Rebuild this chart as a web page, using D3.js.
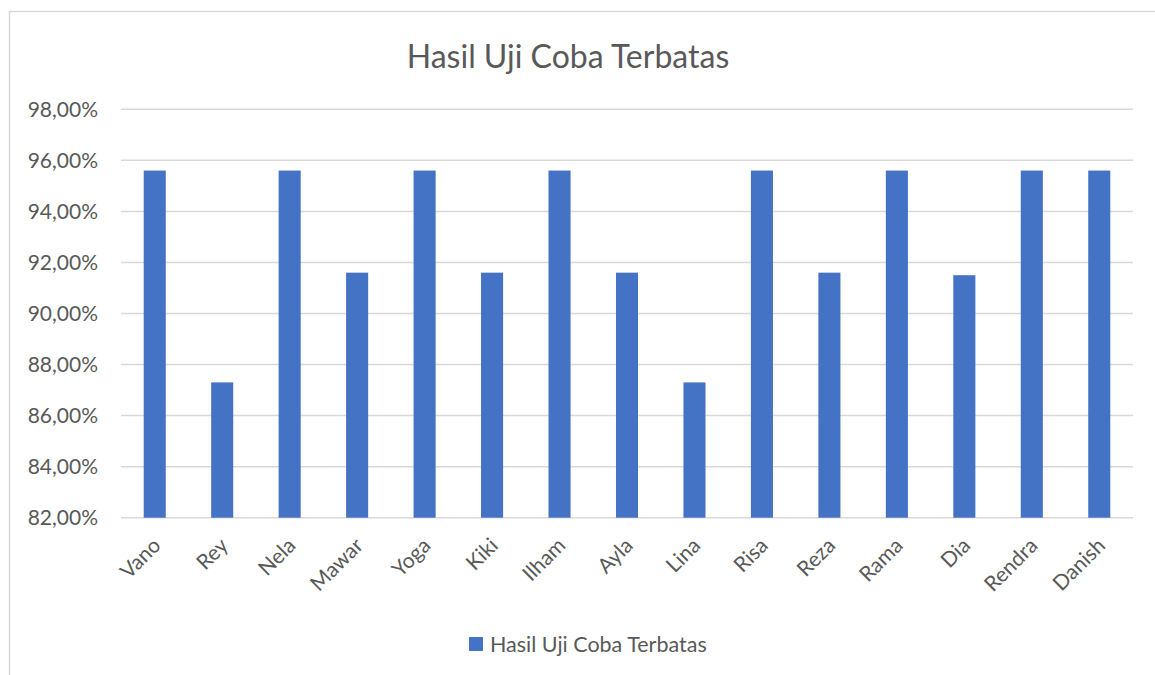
<!DOCTYPE html>
<html>
<head>
<meta charset="utf-8">
<script src="https://cdn.jsdelivr.net/npm/d3@7"></script>
<style>
  body { margin: 0; background: #fff; }
  text { font-family: Lato, "Open Sans", sans-serif; fill: #595959; }
</style>
</head>
<body>
<div id="chart"></div>
<script>
const names = ['Vano', 'Rey', 'Nela', 'Mawar', 'Yoga', 'Kiki', 'Ilham', 'Ayla', 'Lina', 'Risa', 'Reza', 'Rama', 'Dia', 'Rendra', 'Danish'];
const scores = [95.6, 87.3, 95.6, 91.6, 95.6, 91.6, 95.6, 91.6, 87.3, 95.6, 91.6, 95.6, 91.5, 95.6, 95.6];
const yTicks = [82, 84, 86, 88, 90, 92, 94, 96, 98];
const title = 'Hasil Uji Coba Terbatas';

const width = 1155;
const height = 675;
const margin = { top: 109, right: 22, bottom: 157, left: 121 };

const svg = d3.select('#chart').append('svg')
  .attr('width', width)
  .attr('height', height);

// chart frame (only left/top visible in the original crop)
svg.append('rect')
  .attr('x', 9.5).attr('y', 11.5)
  .attr('width', width + 20).attr('height', height + 20)
  .attr('fill', 'none')
  .attr('stroke', '#d9d9d9')
  .attr('stroke-width', 1.5);

const x = d3.scaleBand()
  .domain(names)
  .range([margin.left, width - margin.right])
  .paddingInner(0.673)
  .paddingOuter(0.3365);

const y = d3.scaleLinear()
  .domain([82, 98])
  .range([height - margin.bottom - 0.3, margin.top + 0.3]);

// gridlines
svg.append('g')
  .selectAll('line')
  .data(yTicks)
  .enter().append('line')
  .attr('x1', margin.left)
  .attr('x2', width - margin.right)
  .attr('y1', d => y(d))
  .attr('y2', d => y(d))
  .attr('stroke', '#d9d9d9')
  .attr('stroke-width', 1.5);

// y labels
const fmt = d => d.toFixed(2).replace('.', ',') + '%';
svg.append('g')
  .selectAll('text')
  .data(yTicks)
  .enter().append('text')
  .attr('x', 98)
  .attr('y', d => y(d))
  .attr('dy', '0.35em')
  .attr('text-anchor', 'end')
  .style('font-size', '21px')
  .text(fmt);

// bars
svg.append('g')
  .selectAll('rect')
  .data(names)
  .enter().append('rect')
  .attr('x', d => x(d))
  .attr('width', x.bandwidth())
  .attr('y', (d, i) => y(scores[i]))
  .attr('height', (d, i) => y(82) - y(scores[i]))
  .attr('fill', '#4472c4');

// x labels, rotated
svg.append('g')
  .selectAll('text')
  .data(names)
  .enter().append('text')
  .attr('transform', d => `translate(${x(d) + x.bandwidth() / 2 + 2},${y(82) + 24}) rotate(-45)`)
  .attr('text-anchor', 'end')
  .attr('dy', '0.35em')
  .style('font-size', '21px')
  .text(d => d);

// title
svg.append('text')
  .attr('x', 568)
  .attr('y', 68)
  .attr('text-anchor', 'middle')
  .style('font-size', '32px')
  .text(title);

// legend
const legend = svg.append('g');
legend.append('rect')
  .attr('x', 469).attr('y', 637)
  .attr('width', 14).attr('height', 14)
  .attr('fill', '#4472c4');
legend.append('text')
  .attr('x', 490).attr('y', 652)
  .style('font-size', '21.5px')
  .text(title);
</script>
</body>
</html>
